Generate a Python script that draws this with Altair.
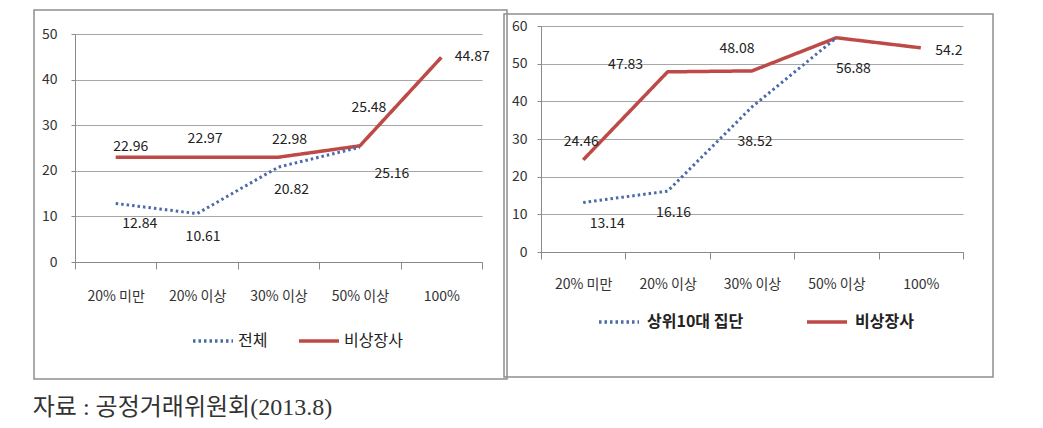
import altair as alt
import pandas as pd

# ---------------- data ----------------
CATS = ["20% 미만", "20% 이상", "30% 이상", "50% 이상", "100%"]

L_DOT_NAME = "전체"
L_DOT_VALS = [12.84, 10.61, 20.82, 25.16]
L_SOLID_NAME = "비상장사"
L_SOLID_VALS = [22.96, 22.97, 22.98, 25.48, 44.87]

R_DOT_NAME = "상위10대 집단"
R_DOT_VALS = [13.14, 16.16, 38.52, 56.88]
R_SOLID_NAME = "비상장사"
R_SOLID_VALS = [24.46, 47.83, 48.08, 56.88, 54.2]

L_Y_MAX = 50
R_Y_MAX = 60
Y_STEP = 10

SOURCE = "자료 : 공정거래위원회(2013.8)"

# ---------------- styling ----------------
BLUE = "#4a6aa8"
RED = "#bd4a47"
BORDER = "#8e8e8e"
GRID = "#a6a6a6"
AXIS = "#8a8a8a"
TXT = "#222222"
FONT = "Noto Sans CJK KR"

# label nudges in pixels relative to each point (None = no label)
L_SOLID_NUDGE = [(15, -10), (8, -18), (11, -17), (9, -38), (31, 0)]
L_DOT_NUDGE = [(24, 21), (6, 23), (13, 23), (32, 27)]
R_SOLID_NUDGE = [(-2, -18), (-42, -7), (-15, -22), None, (28, 3)]
R_DOT_NUDGE = [(24, 21), (6, 22), (3, 35), (17, 31)]


def make_df(name, vals):
    return pd.DataFrame({
        "cat": CATS[:len(vals)],
        "series": name,
        "value": vals,
        "label": [str(v) for v in vals],
    })


def panel(dot_name, dot_vals, solid_name, solid_vals, ymax, w, h, top_gap,
          dot_nudge, solid_nudge, box, legend_cfg, x_pad, y_pad):
    df = pd.concat([make_df(solid_name, solid_vals), make_df(dot_name, dot_vals)],
                   ignore_index=True)

    x_enc = alt.X("cat:N", sort=CATS, bandPosition=0.5,
                  scale=alt.Scale(type="band", domain=CATS, paddingInner=0, paddingOuter=0),
                  axis=alt.Axis(title=None, labelAngle=0, tickBand="extent", grid=False,
                                domainColor=AXIS, tickColor=AXIS, tickSize=7,
                                labelPadding=x_pad, labelFont=FONT, labelFontSize=14,
                                labelColor="#333333"))
    y_enc = alt.Y("value:Q",
                  scale=alt.Scale(domain=[0, ymax], nice=False, zero=True,
                                  range=[h, top_gap]),
                  axis=alt.Axis(title=None, values=list(range(0, ymax + 1, Y_STEP)),
                                grid=True, gridColor=GRID, gridWidth=1,
                                domainColor=AXIS, tickColor=AXIS, tickSize=4,
                                labelPadding=y_pad, labelFont=FONT, labelFontSize=14,
                                labelColor="#333333"))

    legend = alt.Legend(title=None, orient="none", direction="horizontal",
                        symbolType="stroke", symbolSize=1600, symbolStrokeWidth=3.5,
                        labelFont=FONT, labelColor=TXT, padding=0,
                        **legend_cfg)
    color = alt.Color("series:N",
                      scale=alt.Scale(domain=[dot_name, solid_name], range=[BLUE, RED]),
                      legend=legend)
    dash = alt.StrokeDash("series:N",
                          scale=alt.Scale(domain=[dot_name, solid_name],
                                          range=[[2.5, 3], [1, 0]]),
                          legend=legend)

    base = alt.Chart(df)
    solid_line = base.transform_filter(alt.datum.series == solid_name).mark_line(
        strokeWidth=3.5, strokeJoin="round").encode(x=x_enc, y=y_enc, color=color, strokeDash=dash)
    dot_line = base.transform_filter(alt.datum.series == dot_name).mark_line(
        strokeWidth=3).encode(x=x_enc, y=y_enc, color=color, strokeDash=dash)

    border = alt.Chart(pd.DataFrame({"k": [0]})).mark_rect(
        fillOpacity=0, stroke=BORDER, strokeWidth=1.5).encode(
        x=alt.value(box[0]), x2=alt.value(box[1]), y=alt.value(box[2]), y2=alt.value(box[3]))
    layers = [border, solid_line, dot_line]

    for name, vals, nudges in [(solid_name, solid_vals, solid_nudge),
                               (dot_name, dot_vals, dot_nudge)]:
        for c, nd in zip(CATS, nudges):
            if nd is None:
                continue
            layers.append(
                base.transform_filter((alt.datum.series == name) & (alt.datum.cat == c))
                .mark_text(dx=nd[0], dy=nd[1], align="center", baseline="middle",
                           font=FONT, fontSize=14, color=TXT)
                .encode(x=x_enc, y=y_enc, text="label:N")
            )

    return alt.layer(*layers).properties(width=w, height=h)


left = panel(L_DOT_NAME, L_DOT_VALS, L_SOLID_NAME, L_SOLID_VALS, L_Y_MAX, 407, 236, 8,
             L_DOT_NUDGE, L_SOLID_NUDGE, (-41, 432, -16, 353),
             dict(legendX=116, legendY=293, labelFontSize=16, labelOffset=3,
                  columnPadding=24),
             x_pad=20, y_pad=14)
right = panel(R_DOT_NAME, R_DOT_VALS, R_SOLID_NAME, R_SOLID_VALS, R_Y_MAX, 422, 226, 0,
              R_DOT_NUDGE, R_SOLID_NUDGE, (-37, 452, -12, 351),
              dict(legendX=56, legendY=274, labelFontSize=16, labelFontWeight="bold",
                   labelOffset=6, columnPadding=56),
              x_pad=18, y_pad=10)

chart = alt.hconcat(left, right, spacing=-7).resolve_scale(
    color="independent", strokeDash="independent", x="independent", y="independent"
).resolve_legend(color="independent", strokeDash="independent").properties(
    title=alt.TitleParams(SOURCE, orient="bottom", anchor="start",
                          font="Liberation Serif, Noto Sans CJK KR", fontSize=24,
                          fontWeight="normal", color="#333333", offset=16, baseline="top"),
    padding={"left": 24, "top": 0, "right": 5, "bottom": 0},
).configure_view(stroke="transparent")

chart.save("out.html", embed_options={"renderer": "svg", "actions": False})
